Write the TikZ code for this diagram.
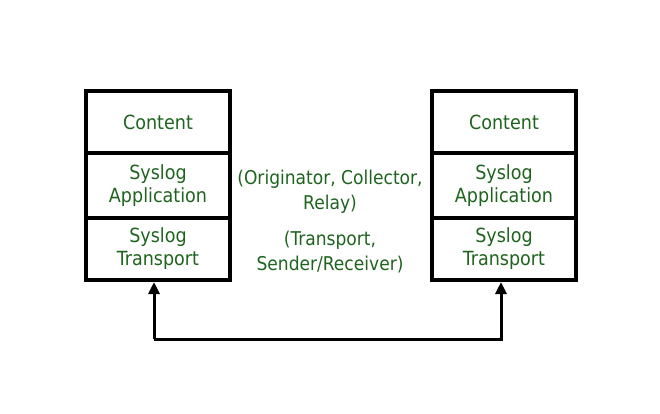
\documentclass[tikz,border=0pt]{standalone}
\usepackage{fontspec}
\setmainfont{DejaVu Sans Condensed}
\usepackage{tikz}
\usetikzlibrary{positioning,arrows.meta}
\definecolor{txtgreen}{RGB}{30,100,30}
\tikzset{layer/.style={draw,line width=4pt,minimum width=144pt,inner sep=0pt,align=center,text=txtgreen,font=\fontsize{19.5}{23}\selectfont}}
\tikzset{link/.style={line width=3pt,-{Triangle[width=11pt,length=12pt]}}}
\tikzset{note/.style={align=center,text=txtgreen,font=\fontsize{19}{25}\selectfont}}

\begin{document}
\begin{tikzpicture}[x=1pt,y=-1pt,node distance=-4pt]
  \useasboundingbox (0,0) rectangle (660,413);
  % left stack
  \node[layer,minimum height=62pt] (lcontent) at (158,122) {Content};
  \node[layer,minimum height=65pt,below=of lcontent] (lapp) {Syslog\\Application};
  \node[layer,minimum height=62pt,below=of lapp] (ltrans) {Syslog\\Transport};
  % right stack
  \node[layer,minimum height=62pt] (rcontent) at (504,122) {Content};
  \node[layer,minimum height=65pt,below=of rcontent] (rapp) {Syslog\\Application};
  \node[layer,minimum height=62pt,below=of rapp] (rtrans) {Syslog\\Transport};

  \node[note] (roles) at (330,192) {(Originator, Collector,\\Relay)};
  \node[note] (trans) at (330,252) {(Transport,\\Sender/Receiver)};

  \coordinate (lfoot) at ([xshift=-4pt]ltrans.south |- 0,339);
  \draw[link] (lfoot) -- ([xshift=-4pt]ltrans.south);
  \draw[link] (lfoot) -| ([xshift=-3pt]rtrans.south);
\end{tikzpicture}
\end{document}
